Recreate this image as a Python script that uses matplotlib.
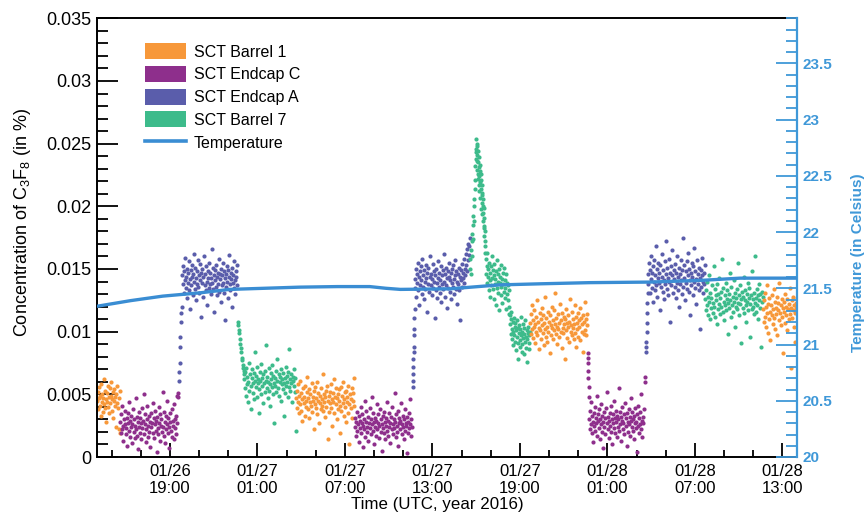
import numpy as np
import matplotlib
matplotlib.use("Agg")
import matplotlib.pyplot as plt
import matplotlib.dates as mdates
from matplotlib.patches import Patch
from matplotlib.lines import Line2D
from matplotlib.ticker import MultipleLocator, FuncFormatter

plt.rcParams['font.family'] = ['Liberation Sans', 'DejaVu Sans']
plt.rcParams['mathtext.fontset'] = 'custom'
plt.rcParams['mathtext.rm'] = 'Liberation Sans'
plt.rcParams['mathtext.it'] = 'Liberation Sans'

# ---------------- data ----------------
series_names = ["SCT Barrel 1", "SCT Endcap C", "SCT Endcap A", "SCT Barrel 7"]
series_colors = ["#F7983A", "#8E2F8C", "#5A5DAB", "#3DBB8B"]
temp_color = "#3A8DD3"
axis_blue = "#3F98D8"

start_time = np.datetime64("2016-01-26T14:00")
end_time = np.datetime64("2016-01-28T14:00")

# chunks: (series index, start hour, end hour) offsets from start_time ; values in 1e-4 %
chunk_series = [0, 1, 2, 2, 3, 3, 0, 1, 2, 2, 3, 3, 3, 3, 0, 1, 1, 2, 2, 3, 0]
chunk_start = [0.00, 1.60, 5.60, 5.85, 9.65, 10.10, 13.65, 17.68, 21.65, 21.80, 25.58, 25.95, 26.65, 28.30,
               29.70, 33.64, 33.74, 37.62, 37.78, 41.70, 45.67]
chunk_end = [1.58, 5.58, 5.82, 9.62, 10.08, 13.62, 17.64, 21.60, 21.78, 25.56, 25.93, 26.63, 28.28, 29.68,
             33.62, 33.72, 37.58, 37.76, 41.68, 45.64, 48.00]

v_b1_a = [45,52,38,47,56,41,49,33,58,44,50,36,47,62,42,39,53,46,28,51,44,57,40,48,35,55,43,60,49,37,46,52,31,45,54,41,48,24,50,43,57,39,22,47,19,53]
v_ec_a = [28,19,34,22,41,25,13,30,26,37,18,23,31,9,27,35,21,44,16,29,24,33,11,26,38,20,30,15,25,47,22,32,17,28,6,36,24,19,31,27,14,39,23,29,50,18,26,34,12,22,30,41,25,16,33,20,28,8,35,24,27,43,19,31,15,26,37,21,29,4,32,23,18,40,27,13,34,25,30,20,52,24,36,17,28,11,33,22,26,45,19,31,24,7,35,28,21,38,16,29,25,42,14,30,23,33,18,27,49,48,51]
v_ea_ramp_a = [61,68,75,88,96,108,115,120]
v_ea_a = [145,138,152,131,148,141,159,135,144,127,150,139,147,156,133,142,118,149,137,153,144,129,146,162,140,134,151,143,125,148,138,157,136,145,131,154,141,112,147,139,150,128,144,160,137,146,133,152,140,121,148,143,135,155,138,147,130,143,166,139,151,134,145,116,149,141,136,153,144,129,147,138,158,132,146,142,124,150,137,145,155,139,131,148,143,109,146,136,152,140,127,149,144,161,138,133,147,142,120,151,139,145,135,156,141,130,148,144,137,153]
v_b7_decay_a = [108,105,101,99,94,90,87,84,79,77,73,71,69,66]
v_b7_a = [62,55,68,49,71,58,64,44,60,75,53,66,57,38,63,70,51,59,67,46,61,84,56,65,48,72,59,62,35,54,68,61,50,74,57,63,43,66,59,52,69,61,89,55,64,47,60,71,53,58,41,67,62,56,73,50,65,59,27,63,57,69,52,61,78,55,66,49,60,64,45,70,58,62,54,67,33,59,63,51,72,57,65,60,48,68,56,86,62,53,66,59,44,64,61,57,70,52,63,21]
v_b1_b = [47,39,53,44,58,35,49,42,61,37,51,46,29,55,43,48,33,57,45,40,52,64,38,47,54,31,44,50,41,59,36,48,45,22,53,42,56,39,47,34,60,45,51,27,43,49,38,55,46,41,66,37,50,44,32,48,53,40,57,45,14,49,36,52,43,58,39,46,25,51,44,62,35,48,42,55,30,47,50,38,54,45,19,41,56,37,49,43,60,33,46,52,40,28,53,44,48,35,57,42,10,50,39,46,55,31,45,51,41,63]
v_ec_b = [24,31,17,28,36,21,26,12,33,23,29,40,19,27,34,8,25,30,22,45,16,28,37,24,20,32,13,27,39,23,30,18,26,48,21,35,28,10,24,31,17,29,42,22,27,34,15,25,38,20,30,5,26,33,23,19,36,28,14,31,25,44,21,29,17,35,24,27,11,32,22,40,26,18,30,23,51,28,16,34,25,20,37,9,27,31,22,29,43,18,26,33,24,14,30,21,38,27,25,3,32,19,28,35,23,46,26,17,30,24]
v_ea_ramp_b = [56,61,66,72,78,84,88,97,102,111,118]
v_ea_b = [142,135,150,128,146,139,155,133,144,121,148,137,152,141,130,158,136,145,126,149,140,134,153,143,116,147,138,151,132,144,160,137,146,129,142,154,135,148,140,111,145,133,150,139,127,156,143,136,147,131,141,152,124,145,138,149,134,162,140,128,146,137,151,143,119,148,135,144,155,132,141,147,126,150,139,136,153,142,130,145,157,134,148,140,122,146,138,151,133,144,109,149,141,136,154,143,147,139,158,150,145,162,153,148,166,157,170,161,168,175]
v_b7_rise = [150,158,146,165,172,160,178,185,174,192,200,188,206,214,221]
v_b7_peak = [232,246,238,254,243,250,229,241,236,248,222,235,244,226,231,217,239,224,212,228,219,233,207,221,214,198,226,209,203,217,194,211,200,188,206,195,183,199,176,191,184,172,168,180,163]
v_b7_plateau = [158,146,152,139,163,144,150,133,155,141,147,128,152,137,160,143,134,149,126,145,154,138,142,121,148,135,157,140,131,146,117,150,139,144,129,153,136,142,123,147,138,132,151,127,141,135,118,146,130,139,125,137,120,133,114]
v_b7_low = [113,106,110,98,116,102,94,108,100,89,111,97,104,92,107,85,101,96,109,91,103,78,99,105,93,88,102,97,112,90,100,84,106,95,98,82,103,92,109,96,87,101,94,76,99,104,91,97,86,100]
v_b1_c = [107,98,114,102,121,95,109,104,117,91,106,112,100,125,97,108,103,86,115,101,110,94,119,105,99,113,89,107,102,128,96,111,104,92,116,100,108,83,113,105,97,120,103,109,94,117,101,106,131,98,111,104,90,114,102,107,96,122,100,109,87,115,103,99,112,106,78,110,101,118,95,107,104,113,92,108,126,100,105,97,116,103,110,94,106,121,99,112,88,107,102,115,96,109,104,119,93,111,100,106,84,113,98,108,124,101,110,97,114,105]
v_ec_ramp_c = [83,79,75,69,63,56,48]
v_ec_c = [30,22,37,26,44,19,33,28,12,35,25,40,21,31,27,49,17,34,29,23,38,14,30,26,42,20,33,7,28,36,24,31,18,39,27,52,22,32,29,15,35,25,41,20,30,10,34,27,23,45,19,31,28,37,16,33,24,30,55,21,36,26,13,32,29,40,22,27,34,18,43,25,31,9,35,28,20,38,26,32,17,47,29,24,36,21,30,14,33,27,39,23,28,4,34,25,41,19,31,26,36,22,50,29,16,32,27,38,60,64]
v_ea_ramp_c = [84,88,92,100,107,115,123,131]
v_ea_c = [146,138,155,131,149,142,160,135,147,124,152,140,157,133,145,168,137,150,128,143,155,139,147,117,153,136,144,162,132,149,141,126,156,138,146,172,134,151,143,129,158,140,147,108,152,137,145,165,131,149,142,136,154,127,147,139,160,133,144,151,120,146,138,157,141,130,149,175,136,153,143,125,148,139,156,134,145,163,132,150,141,113,147,137,155,144,129,152,140,167,135,148,142,122,157,138,146,133,151,143,102,149,136,145,159,140,131,147,138,153]
v_b7_c = [126,117,133,121,140,113,128,124,145,110,131,119,127,137,115,123,152,120,134,112,129,125,106,138,118,130,122,143,114,127,132,120,158,116,135,124,109,129,121,139,117,126,133,98,123,130,119,147,125,112,136,121,128,116,141,124,131,104,127,120,134,118,155,123,129,113,137,122,126,91,132,119,128,144,115,125,133,121,108,130,124,139,117,127,135,96,122,129,118,148,126,120,114,131,123,160,127,116,134,121,129,110,125,138,119,130,88,124,132,128]
v_b1_d = [118,108,125,112,131,104,120,115,137,99,122,110,127,116,93,121,113,129,106,118,134,111,124,102,119,114,128,97,117,123,109,139,115,121,105,126,112,119,83,124,116,130,107,120,113,126,101,118,122,110,135,114,119,71,125,111,117,128,104,121,115,92,123,119,127]

chunk_values = [v_b1_a, v_ec_a, v_ea_ramp_a, v_ea_a, v_b7_decay_a, v_b7_a, v_b1_b, v_ec_b, v_ea_ramp_b, v_ea_b,
                v_b7_rise, v_b7_peak, v_b7_plateau, v_b7_low, v_b1_c, v_ec_ramp_c, v_ec_c, v_ea_ramp_c, v_ea_c,
                v_b7_c, v_b1_d]

temp_hours = [0.0, 2.3, 4.5, 7.1, 9.1, 11.5, 13.9, 16.5, 18.7, 19.8, 20.8, 24.2, 27.6, 30.5, 33.8, 37.9, 41.4, 44.1, 48.0]
temp_values = [21.34, 21.39, 21.43, 21.46, 21.49, 21.50, 21.51, 21.515, 21.515, 21.50, 21.49, 21.495, 21.53, 21.54, 21.55, 21.555, 21.57, 21.59, 21.59]

y_left_label = r"Concentration of C$_{3}$F$_{8}$ (in %)"
y_right_label = "Temperature (in Celsius)"
x_label = "Time (UTC, year 2016)"


def hours_to_time(h):
    return start_time + (np.asarray(h, dtype=float) * 3600).astype("timedelta64[s]")


# ---------------- figure ----------------
fig = plt.figure(figsize=(8.67, 5.15), dpi=100)
ax = fig.add_axes([97 / 867, 1 - 457 / 515, 700 / 867, (457 - 18.3) / 515])

for s, t0, t1, vals in zip(chunk_series, chunk_start, chunk_end, chunk_values):
    n = len(vals)
    hrs = np.linspace(t0, t1, n)
    ax.scatter(hours_to_time(hrs), np.array(vals) * 1e-4, s=9, color=series_colors[s],
               linewidths=0, zorder=2)

ax.set_xlim(start_time, end_time)
ax.set_ylim(0, 0.035)
ax.yaxis.set_major_locator(MultipleLocator(0.005))
ax.yaxis.set_minor_locator(MultipleLocator(0.001))
ax.yaxis.set_major_formatter(FuncFormatter(lambda v, p: "%g" % round(v, 4)))
ax.xaxis.set_major_locator(mdates.HourLocator(byhour=[1, 7, 13, 19]))
ax.xaxis.set_minor_locator(mdates.HourLocator(byhour=list(range(1, 24, 2))))
ax.xaxis.set_major_formatter(mdates.DateFormatter("%m/%d\n%H:%M"))

ax.tick_params(axis="y", which="major", direction="in", length=15, width=1.3, labelsize=13, pad=4)
ax.tick_params(axis="y", which="minor", direction="in", length=8, width=1.3)
ax.tick_params(axis="x", which="major", direction="in", length=10, width=1.3, labelsize=12, pad=5)
ax.tick_params(axis="x", which="minor", direction="in", length=5, width=1.3)
for side in ["left", "bottom", "top"]:
    ax.spines[side].set_linewidth(1.4)
ax.spines["right"].set_visible(False)

ax.set_xlabel(x_label, fontsize=12.2)
ax.xaxis.set_label_coords(0.486, -0.092)
ax.set_ylabel(y_left_label, fontsize=13)
ax.yaxis.set_label_coords(-0.091, 0.536)

handles = [Patch(facecolor=c, edgecolor="none", label=n) for c, n in zip(series_colors, series_names)]
handles.append(Line2D([0], [0], color=temp_color, lw=2.6, label="Temperature"))
ax.legend(handles=handles, loc="upper left", bbox_to_anchor=(0.069, 0.943), frameon=False,
          fontsize=11.5, handlelength=2.55, handleheight=1.15, handletextpad=0.5, labelspacing=0.4,
          borderpad=0, borderaxespad=0)

ax2 = ax.twinx()
ax2.plot(hours_to_time(temp_hours), temp_values, color=temp_color, lw=2.4, zorder=3)
ax2.set_ylim(20, 23.9)
ax2.yaxis.set_major_locator(MultipleLocator(0.5))
ax2.yaxis.set_minor_locator(MultipleLocator(0.1))
ax2.yaxis.set_major_formatter(FuncFormatter(lambda v, p: "%g" % round(v, 2)))
ax2.tick_params(axis="y", which="major", direction="in", length=15, width=1.3, color=axis_blue,
                labelcolor=axis_blue, labelsize=11, pad=4)
ax2.tick_params(axis="y", which="minor", direction="in", length=8, width=1.3, color=axis_blue)
for lab in ax2.get_yticklabels():
    lab.set_fontweight("bold")
for side in ["left", "bottom", "top"]:
    ax2.spines[side].set_visible(False)
ax2.spines["right"].set_color(axis_blue)
ax2.spines["right"].set_linewidth(1.6)
ax2.set_ylabel(y_right_label, fontsize=11, fontweight="bold", color=axis_blue)
ax2.yaxis.set_label_coords(1.077, 0.444)
ax2.set_xlim(start_time, end_time)

fig.savefig("out.png", dpi=100)
